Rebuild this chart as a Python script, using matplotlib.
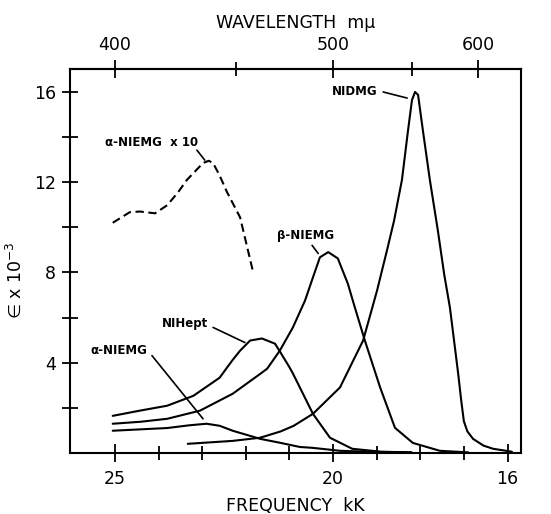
import matplotlib
matplotlib.use("Agg")
import matplotlib.pyplot as plt
from matplotlib.ticker import FixedLocator, FuncFormatter, NullFormatter

# ---- data (frequency in kK, epsilon x 10^-3) ----
nidmg_x = [23.33, 22.3, 21.67, 21.2, 20.9, 20.46, 19.84, 19.31, 18.99, 18.76, 18.6,
           18.42, 18.28, 18.19, 18.12, 18.05, 17.94, 17.78, 17.6, 17.45, 17.32,
           17.13, 17.06, 17.0, 16.92, 16.79, 16.55, 16.33, 15.9]
nidmg_y = [0.40, 0.53, 0.67, 0.95, 1.20, 1.73, 2.90, 4.98, 7.20, 9.00, 10.3,
           12.1, 14.3, 15.64, 16.0, 15.87, 14.3, 12.1, 9.9, 7.9, 6.44,
           3.5, 2.3, 1.4, 0.95, 0.62, 0.32, 0.18, 0.05]

beta_x = [25.05, 24.4, 23.8, 23.05, 22.3, 21.67, 21.51, 21.22, 20.92, 20.64, 20.46,
          20.3, 20.11, 19.89, 19.66, 19.5, 19.27, 18.92, 18.58, 18.17, 17.55, 16.9]
beta_y = [1.29, 1.38, 1.51, 1.87, 2.62, 3.50, 3.73, 4.53, 5.56, 6.76, 7.78,
          8.67, 8.90, 8.62, 7.50, 6.45, 4.98, 2.90, 1.11, 0.44, 0.09, 0.02]

hept_x = [25.05, 24.43, 23.8, 23.2, 22.6, 22.43, 22.3, 22.13, 21.9, 21.63, 21.33,
          21.22, 21.0, 20.92, 20.46, 20.07, 19.56, 18.9, 18.2]
hept_y = [1.64, 1.87, 2.09, 2.53, 3.33, 3.78, 4.12, 4.53, 4.98, 5.07, 4.84,
          4.50, 3.80, 3.52, 1.73, 0.67, 0.18, 0.05, 0.02]

alpha_x = [25.05, 23.8, 23.3, 22.9, 22.6, 22.3, 21.67, 21.2, 20.76, 20.46, 19.84, 19.0, 18.2]
alpha_y = [0.98, 1.10, 1.22, 1.29, 1.20, 0.98, 0.62, 0.44, 0.26, 0.22, 0.09, 0.04, 0.02]

alpha10_x = [25.05, 24.66, 24.43, 24.08, 23.8, 23.55, 23.35, 22.98, 22.85, 22.75,
             22.6, 22.43, 22.13, 21.83]
alpha10_y = [10.2, 10.67, 10.7, 10.62, 10.98, 11.56, 12.1, 12.85, 12.95, 12.85,
             12.3, 11.56, 10.44, 8.0]

freq_major = [25, 20, 16]
freq_minor = [17, 18, 19, 21, 22, 23, 24]
wl_major = [400, 500, 600]
wl_minor = [450, 550]
eps_ticks = [2, 4, 6, 8, 10, 12, 14, 16]
eps_labels = {4: "4", 8: "8", 12: "12", 16: "16"}

# ---- figure ----
fig = plt.figure(figsize=(5.51, 5.14), dpi=100)
ax = fig.add_axes([0.127, 0.119, 0.8186, 0.7468])

lw = 1.5
kw = dict(color="black", lw=lw, solid_joinstyle="round", solid_capstyle="round")
ax.plot(nidmg_x, nidmg_y, **kw)
ax.plot(beta_x, beta_y, **kw)
ax.plot(hept_x, hept_y, **kw)
ax.plot(alpha_x, alpha_y, **kw)
ax.plot(alpha10_x, alpha10_y, color="black", lw=lw, dashes=(4, 2.2))

ax.set_xlim(26.03, 15.69)
ax.set_ylim(0, 17.02)

for s in ax.spines.values():
    s.set_linewidth(1.5)

ax.xaxis.set_major_locator(FixedLocator(freq_major))
ax.xaxis.set_minor_locator(FixedLocator(freq_minor))
ax.xaxis.set_minor_formatter(NullFormatter())
ax.yaxis.set_major_locator(FixedLocator(eps_ticks))
ax.yaxis.set_major_formatter(FuncFormatter(lambda v, p: eps_labels.get(int(round(v)), "")))
ax.tick_params(axis="both", which="major", direction="inout", length=12, width=1.3,
               labelsize=12.5, pad=4)
ax.tick_params(axis="x", which="major", length=13, pad=6)
ax.tick_params(axis="x", which="minor", direction="inout", length=10, width=1.3)

sec = ax.secondary_xaxis("top", functions=(lambda f: 1e4 / f, lambda w: 1e4 / w))
sec.xaxis.set_major_locator(FixedLocator(wl_major))
sec.xaxis.set_minor_locator(FixedLocator(wl_minor))
sec.xaxis.set_minor_formatter(NullFormatter())
sec.tick_params(which="major", direction="inout", length=13, width=1.3, labelsize=12.5, pad=4)
sec.tick_params(which="minor", direction="inout", length=10, width=1.3)
sec.spines["top"].set_linewidth(1.5)
sec.set_xlabel("WAVELENGTH  m\u03bc", fontsize=12.5, labelpad=6)

ax.set_xlabel("FREQUENCY  kK", fontsize=12.5, labelpad=6)
ax.set_ylabel("\u2208 x 10$^{-3}$", fontsize=12.5)
ax.yaxis.set_label_coords(-0.10, 0.45)

# ---- curve labels with leader lines ----
lab = dict(fontsize=8.5, fontweight="bold", color="black", family="DejaVu Sans", va="center")
line = dict(arrowstyle="-", color="black", lw=1.2, shrinkA=0, shrinkB=0)

ax.text(18.97, 16.0, "NIDMG", ha="right", **lab)
ax.annotate("", xy=(18.30, 15.73), xytext=(18.85, 16.0), arrowprops=line)

ax.text(20.62, 9.64, "\u03b2-NIEMG", ha="center", **lab)
ax.annotate("", xy=(20.34, 8.84), xytext=(20.48, 9.2), arrowprops=line)

ax.text(22.87, 5.73, "NIHept", ha="right", **lab)
ax.annotate("", xy=(22.02, 4.89), xytext=(22.75, 5.56), arrowprops=line)

ax.text(24.91, 4.53, "\u03b1-NIEMG", ha="center", **lab)
ax.annotate("", xy=(22.98, 1.51), xytext=(24.15, 4.31), arrowprops=line)

ax.text(23.1, 13.78, "\u03b1-NIEMG  x 10", ha="right", **lab)
ax.annotate("", xy=(22.94, 12.98), xytext=(23.12, 13.42), arrowprops=line)

fig.savefig("out.png", dpi=100)
